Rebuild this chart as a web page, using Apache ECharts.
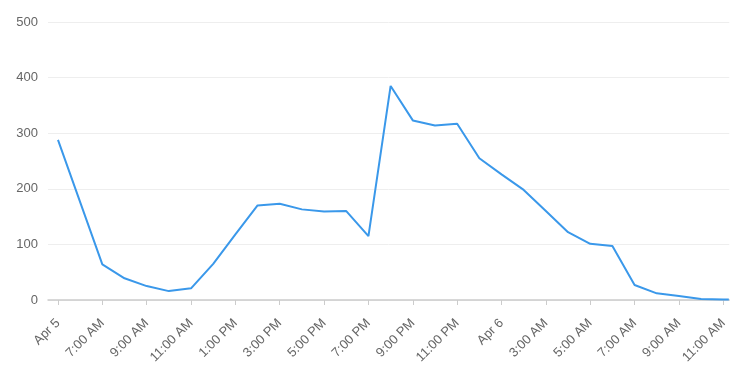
<!DOCTYPE html>
<html>
<head>
<meta charset="utf-8">
<script src="https://cdn.jsdelivr.net/npm/echarts@6/dist/echarts.min.js"></script>
<style>html,body{margin:0;padding:0;background:#fff}#c{width:730px;height:374px}</style>
</head>
<body>
<div id="c"></div>
<script>
// hours elapsed since Apr 5, 5:00 AM
const hours = [0, 2, 3, 4, 5, 6, 7, 8, 9, 10, 11, 12, 13, 14, 15, 16, 17, 18, 19, 20, 21, 22, 23, 24, 25, 26, 27, 28, 29, 30, 30.25];
const values = [288, 64, 39, 25, 16, 21, 65, 118, 170, 173, 163, 159, 160, 115, 385, 323, 314, 317, 255, 226, 198, 160, 122, 101, 97, 27, 12, 7, 2, 1, 1];
const tickHours = [0, 2, 4, 6, 8, 10, 12, 14, 16, 18, 20, 22, 24, 26, 28, 30];
const tickLabels = ["Apr 5", "7:00 AM", "9:00 AM", "11:00 AM", "1:00 PM", "3:00 PM", "5:00 PM", "7:00 PM", "9:00 PM", "11:00 PM", "Apr 6", "3:00 AM", "5:00 AM", "7:00 AM", "9:00 AM", "11:00 AM"];
const yTicks = [0, 100, 200, 300, 400, 500];

const chart = echarts.init(document.getElementById('c'), null, {renderer: 'canvas'});
const fontFamily = '"Liberation Sans", Arial, sans-serif';
chart.setOption({
  animation: false,
  grid: {left: 48, right: 0, top: 22, bottom: 74, containLabel: false},
  xAxis: {
    type: 'value',
    min: -0.45,
    max: 30.27,
    splitLine: {show: false},
    axisLine: {show: true, lineStyle: {color: '#cccccc', width: 1.5}},
    axisTick: {show: true, length: 5, lineStyle: {color: '#cccccc'}, customValues: tickHours},
    axisLabel: {
      customValues: tickHours,
      rotate: 45,
      margin: 21,
      color: '#666666',
      fontSize: 13,
      fontFamily: fontFamily,
      formatter: function (v) {
        const i = tickHours.indexOf(v);
        return i >= 0 ? tickLabels[i] : '';
      }
    }
  },
  yAxis: {
    type: 'value',
    min: yTicks[0],
    max: yTicks[yTicks.length - 1],
    interval: 100,
    axisLine: {show: false},
    axisTick: {show: false},
    splitLine: {lineStyle: {color: '#eeeeee', width: 1}},
    axisLabel: {color: '#666666', fontSize: 13, fontFamily: fontFamily, margin: 10}
  },
  series: [{
    type: 'line',
    data: hours.map((h, i) => [h, values[i]]),
    showSymbol: false,
    symbol: 'none',
    lineStyle: {color: '#3a98ea', width: 2},
    itemStyle: {color: '#3a98ea'}
  }]
});
</script>
</body>
</html>
